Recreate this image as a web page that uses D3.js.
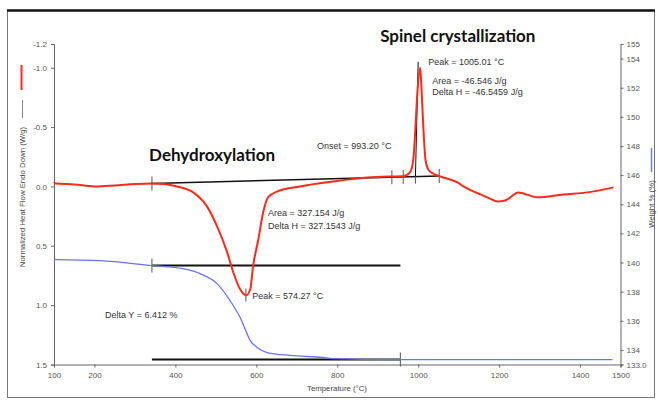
<!DOCTYPE html>
<html>
<head>
<meta charset="utf-8">
<script src="https://cdn.jsdelivr.net/npm/d3@7"></script>
<style>
  html, body { margin: 0; padding: 0; background: #fff; }
  svg text { font-family: "Liberation Sans", Arial, sans-serif; }
  .tick text { fill: #555; font-size: 8px; }
  .domain, .tick line { stroke: #666; }
  .note { fill: #333; font-size: 9px; }
  .title { font-family: Lato, "Open Sans", sans-serif !important; font-weight: 700; font-size: 17px; fill: #111; }
</style>
</head>
<body>
<div id="chart"></div>
<script>
(function () {
  'use strict';

  // DSC curve: temperature (°C) vs normalized heat flow (W/g, endo down)
  var dscTemp = [100, 104, 150, 200, 250, 300, 342, 370, 404, 444, 478, 503, 528, 543, 560, 575, 585, 592, 605, 617,
    629, 652, 708, 790, 874, 931, 963, 980, 988, 993, 998, 1005, 1008, 1013, 1018, 1025, 1037, 1055, 1097, 1112,
    1136, 1154, 1171, 1196, 1215, 1248, 1260, 1295, 1359, 1418, 1483];
  var dscFlow = [-0.04, -0.025, -0.017, 0.0, -0.008, -0.02, -0.025, -0.02, 0.0, 0.05, 0.168, 0.336, 0.555, 0.723, 0.866, 0.916, 0.866, 0.672, 0.445, 0.218,
    0.092, 0.042, 0.0, -0.042, -0.076, -0.084, -0.086, -0.12, -0.227, -0.48, -0.79, -1.0, -0.84, -0.48, -0.227, -0.143, -0.109, -0.084, -0.034, 0.0,
    0.042, 0.067, 0.092, 0.126, 0.118, 0.05, 0.059, 0.092, 0.067, 0.05, 0.008];

  // TG curve: temperature (°C) vs weight (%)
  var tgTemp = [100, 214, 342, 419, 461, 503, 535, 560, 577, 585, 602, 627, 684, 765, 788, 956, 1100, 1300, 1480];
  var tgWeight = [140.2, 140.13, 139.79, 139.58, 139.24, 138.55, 137.39, 136.22, 135.12, 134.64, 134.17, 133.82, 133.62, 133.48, 133.41, 133.34, 133.33, 133.33, 133.33];

  // tick labels
  var xTicks = [100, 200, 400, 600, 800, 1000, 1200, 1400, 1500];
  var leftTicks = [-1.2, -1.0, -0.5, 0.0, 0.5, 1.0, 1.5];
  var rightTicks = [155, 154, 152, 150, 148, 146, 144, 142, 140, 138, 136, 134, 133];

  // analysis markers
  var dehydroStart = 342, dehydroEnd = 956;
  var dehydroPeak = 574.27;
  var spinelTicks = [342, 935, 963, 993.2, 1052];
  var baselineFlow = [-0.025, -0.088];
  var onsetTemp = 993.2, onsetTop = [1000, -1.05];
  var tgLevels = [139.79, 133.34];

  var width = 658;
  var height = 400;

  var svg = d3.select('#chart').append('svg')
    .attr('width', width)
    .attr('height', height);

  /* outer frame */
  svg.append('rect')
    .attr('x', 7.5).attr('y', 10.5)
    .attr('width', 647).attr('height', 387)
    .attr('fill', 'none')
    .attr('stroke', '#777');
  svg.append('line')
    .attr('x1', 7).attr('x2', 655)
    .attr('y1', 10.5).attr('y2', 10.5)
    .attr('stroke', '#111').attr('stroke-width', 2.5);

  var x = d3.scaleLinear().domain([100, 1500]).range([54, 620.5]);
  var yFlow = d3.scaleLinear().domain([-1.2, 1.5]).range([44, 364.5]);
  var yWeight = d3.scaleLinear().domain([133, 155]).range([364.5, 44]);

  var fmt1 = d3.format('.1f');

  // axes
  svg.append('g')
    .attr('transform', 'translate(0,364.5)')
    .call(d3.axisBottom(x).tickValues(xTicks).tickSize(3).tickPadding(5).tickFormat(d3.format('d')));

  svg.append('g')
    .attr('transform', 'translate(54,0)')
    .call(d3.axisLeft(yFlow).tickValues(leftTicks).tickSize(3).tickPadding(4)
      .tickFormat(function (d) { return fmt1(d).replace('\u2212', '-'); }));

  svg.append('g')
    .attr('transform', 'translate(620.5,0)')
    .call(d3.axisRight(yWeight).tickValues(rightTicks).tickSize(3).tickPadding(3)
      .tickFormat(function (d) { return d === 133 ? '133.0' : d; }));

  svg.selectAll('.domain').attr('stroke', '#555');

  // axis titles + legend strokes
  svg.append('text')
    .attr('transform', 'translate(25,197) rotate(-90)')
    .attr('text-anchor', 'middle')
    .style('font-size', '7.8px').attr('fill', '#444')
    .text('Normalized Heat Flow Endo Down (W/g)');
  svg.append('line').attr('x1', 21.5).attr('x2', 21.5).attr('y1', 65).attr('y2', 90)
    .attr('stroke', '#ff2a1a').attr('stroke-width', 2);
  svg.append('line').attr('x1', 22.5).attr('x2', 22.5).attr('y1', 100).attr('y2', 118)
    .attr('stroke', '#888').attr('stroke-width', 1);

  svg.append('text')
    .attr('transform', 'translate(654,204) rotate(-90)')
    .attr('text-anchor', 'middle')
    .style('font-size', '7.8px').attr('fill', '#444')
    .text('Weight % (%)');
  svg.append('line').attr('x1', 651.5).attr('x2', 651.5).attr('y1', 148).attr('y2', 172)
    .attr('stroke', '#6f7cf5').attr('stroke-width', 1.5);

  svg.append('text')
    .attr('x', 337).attr('y', 391)
    .attr('text-anchor', 'middle')
    .style('font-size', '7.8px').attr('fill', '#444')
    .text('Temperature (°C)');

  /* black analysis lines */
  var blk = svg.append('g').attr('stroke', '#111').attr('fill', 'none');

  var baseFlowAt = d3.scaleLinear().domain([spinelTicks[0], spinelTicks[spinelTicks.length - 1]]).range(baselineFlow);
  blk.append('line')
    .attr('x1', x(spinelTicks[0])).attr('y1', yFlow(baselineFlow[0]))
    .attr('x2', x(spinelTicks[spinelTicks.length - 1])).attr('y2', yFlow(baselineFlow[1]))
    .attr('stroke-width', 1.5);
  spinelTicks.forEach(function (t) {
    var yy = yFlow(baseFlowAt(t));
    blk.append('line')
      .attr('x1', x(t)).attr('x2', x(t))
      .attr('y1', yy - 7).attr('y2', yy + 7)
      .attr('stroke', '#555').attr('stroke-width', 1);
  });
  // onset tangent
  blk.append('line')
    .attr('x1', x(onsetTemp)).attr('y1', yFlow(baseFlowAt(onsetTemp)))
    .attr('x2', x(onsetTop[0])).attr('y2', yFlow(onsetTop[1]))
    .attr('stroke-width', 1);
  // peak marker
  blk.append('line')
    .attr('x1', x(dehydroPeak)).attr('x2', x(dehydroPeak))
    .attr('y1', yFlow(0.86)).attr('y2', yFlow(0.97))
    .attr('stroke', '#555').attr('stroke-width', 1);

  // TG step lines
  tgLevels.forEach(function (w) {
    blk.append('line')
      .attr('x1', x(dehydroStart)).attr('x2', x(dehydroEnd))
      .attr('y1', yWeight(w)).attr('y2', yWeight(w))
      .attr('stroke-width', 2);
  });
  blk.append('line')
    .attr('x1', x(dehydroStart)).attr('x2', x(dehydroStart))
    .attr('y1', yWeight(tgLevels[0]) - 7).attr('y2', yWeight(tgLevels[0]) + 7)
    .attr('stroke', '#555').attr('stroke-width', 1);
  blk.append('line')
    .attr('x1', x(dehydroEnd)).attr('x2', x(dehydroEnd))
    .attr('y1', yWeight(tgLevels[1]) - 7).attr('y2', yWeight(tgLevels[1]) + 7)
    .attr('stroke', '#555').attr('stroke-width', 1);

  /* curves */
  var tgLine = d3.line()
    .x(function (d, i) { return x(tgTemp[i]); })
    .y(function (d) { return yWeight(d); })
    .curve(d3.curveMonotoneX);
  svg.append('path')
    .datum(tgWeight)
    .attr('d', tgLine)
    .attr('fill', 'none')
    .attr('stroke', '#6574f2')
    .attr('stroke-width', 1.3);

  var dscLine = d3.line()
    .x(function (d, i) { return x(dscTemp[i]); })
    .y(function (d) { return yFlow(d); })
    .curve(d3.curveMonotoneX);
  svg.append('path')
    .datum(dscFlow)
    .attr('d', dscLine)
    .attr('fill', 'none')
    .attr('stroke', '#ff2a1a')
    .attr('stroke-width', 2);

  /* labels */
  var notes = [
    { t: 1025, v: -1.023, s: 'Peak = 1005.01 °C' },
    { t: 1035, v: -0.863, s: 'Area = -46.546 J/g' },
    { t: 1035, v: -0.77, s: 'Delta H = -46.5459 J/g' },
    { t: 750, v: -0.315, s: 'Onset = 993.20 °C' },
    { t: 629, v: 0.249, s: 'Area = 327.154 J/g' },
    { t: 629, v: 0.359, s: 'Delta H = 327.1543 J/g' },
    { t: 590, v: 0.948, s: 'Peak = 574.27 °C' },
    { t: 226, v: 1.108, s: 'Delta Y = 6.412 %' }
  ];
  svg.selectAll('.note')
    .data(notes)
    .enter()
    .append('text')
    .attr('class', 'note')
    .attr('x', function (d) { return x(d.t); })
    .attr('y', function (d) { return yFlow(d.v); })
    .text(function (d) { return d.s; });

  svg.append('text').attr('class', 'title')
    .attr('x', x(335)).attr('y', yFlow(-0.214))
    .text('Dehydroxylation');
  svg.append('text').attr('class', 'title')
    .attr('x', x(906)).attr('y', yFlow(-1.217))
    .text('Spinel crystallization');
}());
</script>
</body>
</html>
